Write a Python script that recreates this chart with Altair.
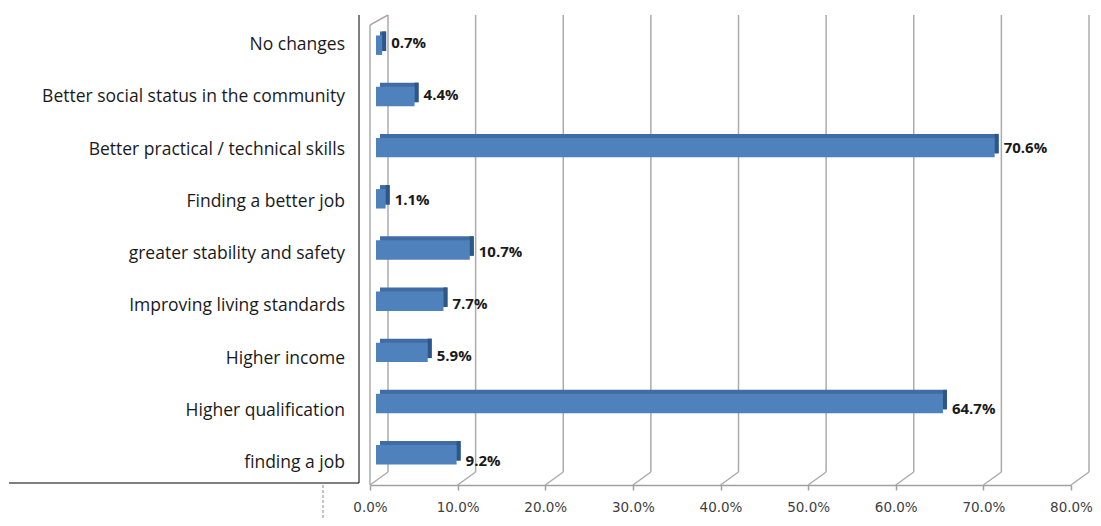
import altair as alt
import pandas as pd

categories = ["No changes", "Better social status in the community",
              "Better practical / technical skills", "Finding a better job",
              "greater stability and safety", "Improving living standards",
              "Higher income", "Higher qualification", "finding a job"]
values = [0.7, 4.4, 70.6, 1.1, 10.7, 7.7, 5.9, 64.7, 9.2]
tick_values = [0, 10, 20, 30, 40, 50, 60, 70, 80]

df = pd.DataFrame({"cat": categories, "v": [x / 100 for x in values],
                   "i": list(range(len(categories)))})
df["lab"] = [f"{x:.1f}%" for x in values]
ticks = pd.DataFrame({"t": [x / 100 for x in tick_values]})
one = pd.DataFrame({"a": [0]})

xscale = alt.Scale(domain=[0, 0.8], nice=False, zero=True)
yscale = alt.Scale(domain=categories, paddingInner=0.62, paddingOuter=0.4)
grid_col = "#ABABAB"

xaxis = alt.Axis(values=[x / 100 for x in tick_values], format=".1%",
                 grid=False, domainColor="#A0A0A0", domainWidth=1.5,
                 tickColor="#A0A0A0", tickSize=5, tickWidth=1.5,
                 labelFont="DejaVu Sans", labelFontSize=13.5, labelFlush=False,
                 labelColor="#404040", labelPadding=10, title=None)

X = lambda: alt.X("t:Q", scale=xscale, axis=xaxis, title=None)
XV = lambda: alt.X("v:Q", scale=xscale, axis=xaxis, title=None)
Y = lambda: alt.Y("cat:N", scale=yscale, axis=None, title=None)

grid_v = alt.Chart(ticks).mark_rule(color=grid_col, strokeWidth=1.5, xOffset=18).encode(
    x=X(), y=alt.value(0), y2=alt.value(457))

grid_s = alt.Chart(ticks).mark_rule(color=grid_col, strokeWidth=1.5, xOffset=18, x2Offset=0).encode(
    x=X(), x2="t:Q", y=alt.value(457), y2=alt.value(470))

wall = alt.Chart(one).mark_rule(color=grid_col, strokeWidth=1.5).encode(
    x=alt.value(0), y=alt.value(10), y2=alt.value(470))
wall_top = alt.Chart(one).mark_rule(color=grid_col, strokeWidth=1.5).encode(
    x=alt.value(0), x2=alt.value(18), y=alt.value(10), y2=alt.value(0))

bar_top = alt.Chart(df).mark_bar(color="#3F6CA4", xOffset=10, x2Offset=10, yOffset=-4, y2Offset=-4).encode(
    x=XV(), x2=alt.datum(0), y=Y())

bar_side = alt.Chart(df).mark_bar(color="#2E5688", xOffset=10, x2Offset=6, yOffset=-4, y2Offset=-4).encode(
    x=XV(), x2="v:Q", y=Y())

bar_front = alt.Chart(df).mark_bar(color="#4F81BD", xOffset=6, x2Offset=6).encode(
    x=XV(), x2=alt.datum(0), y=Y())

text = alt.Chart(df).mark_text(align="left", baseline="middle", dx=15, dy=2,
                               font="Open Sans", fontSize=15, fontWeight="bold",
                               color="#1A1A1A").encode(
    x=XV(), y=Y(), text="lab:N")

cat_text = alt.Chart(df).mark_text(align="right", baseline="middle",
                                   font="Open Sans", fontSize=17.5,
                                   color="#1A1A1A").encode(
    x=alt.value(-25),
    y=alt.Y("i:Q", scale=alt.Scale(domain=[0, 8], range=[30, 448]), axis=None),
    text="cat:N")

box_v = alt.Chart(one).mark_rule(color="#000000", strokeWidth=1).encode(
    x=alt.value(-11), y=alt.value(0), y2=alt.value(468))
box_h = alt.Chart(one).mark_rule(color="#000000", strokeWidth=1).encode(
    x=alt.value(-361), x2=alt.value(-11), y=alt.value(468))
dash = alt.Chart(one).mark_rule(color="#888888", strokeWidth=1, strokeDash=[3, 2]).encode(
    x=alt.value(-47), y=alt.value(470), y2=alt.value(515))

chart = alt.layer(grid_v, grid_s, wall, wall_top, bar_top, bar_side, bar_front, text,
                  cat_text, box_v, box_h, dash).resolve_scale(y="independent").properties(
    width=701, height=470,
    autosize=alt.AutoSizeParams(type="none"),
    padding={"left": 362, "top": 7, "right": 22, "bottom": 33},
    background="white",
).configure_view(stroke=None)

chart.save("out.html", embed_options={"renderer": "svg", "actions": False})
